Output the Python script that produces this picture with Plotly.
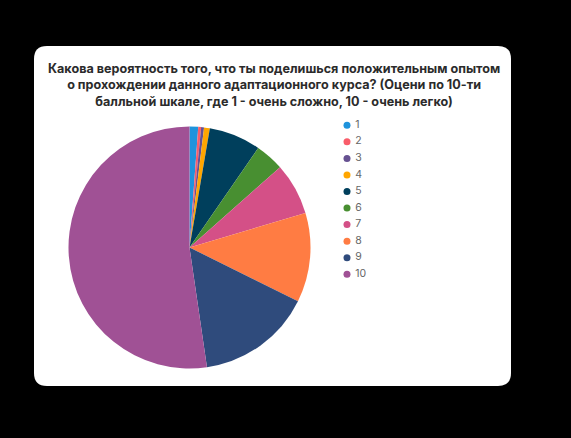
import plotly.graph_objects as go

W, H = 571, 438

title_lines = [
    "Какова вероятность того, что ты поделишься положительным опытом",
    "о прохождении данного адаптационного курса? (Оцени по 10-ти",
    "балльной шкале, где 1 - очень сложно, 10 - очень легко)",
]
categories = ["1", "2", "3", "4", "5", "6", "7", "8", "9", "10"]
counts = [3, 1, 1, 2, 18, 10, 18, 31, 40, 136]
colors = ["#1f93dc", "#f95d6a", "#665191", "#ffa600", "#003f5c",
          "#488f31", "#d45087", "#ff7c43", "#2f4b7c", "#a05195"]


def px(x):
    return x / W


def py(y):
    return 1 - y / H


# pie geometry (pixels)
cx, cy, R = 189.5, 247.5, 121

fig = go.Figure()
fig.add_trace(go.Pie(
    labels=categories, values=counts, sort=False, direction="clockwise",
    rotation=0, textinfo="none", hoverinfo="label+value+percent",
    marker=dict(colors=colors, line=dict(width=0)),
    domain=dict(x=[px(cx - R), px(cx + R)], y=[py(cy + R), py(cy - R)]),
    showlegend=False,
))

# custom legend (circle markers)
fig.add_trace(go.Scatter(
    x=[10] * len(categories), y=list(range(len(categories))),
    mode="markers+text", text=["\u00a0" + c for c in categories],
    textposition="middle right",
    marker=dict(color=colors, size=7, symbol="circle"),
    textfont=dict(family="Inter, sans-serif", size=10.5, color="#666666"),
    hoverinfo="skip", showlegend=False, cliponaxis=False,
))

row = 16.55
top_row = 125.3
y_top = top_row - row / 2
y_bot = top_row + row * 9.5

x0, x1, y0, y1, r = 34, 511, 46, 386, 13
path = (f"M {px(x0+r)},{py(y0)} L {px(x1-r)},{py(y0)} "
        f"Q {px(x1)},{py(y0)} {px(x1)},{py(y0+r)} L {px(x1)},{py(y1-r)} "
        f"Q {px(x1)},{py(y1)} {px(x1-r)},{py(y1)} L {px(x0+r)},{py(y1)} "
        f"Q {px(x0)},{py(y1)} {px(x0)},{py(y1-r)} L {px(x0)},{py(y0+r)} "
        f"Q {px(x0)},{py(y0)} {px(x0+r)},{py(y0)} Z")

fig.update_layout(
    width=W, height=H,
    margin=dict(l=0, r=0, t=0, b=0),
    paper_bgcolor="#000000",
    plot_bgcolor="rgba(0,0,0,0)",
    shapes=[dict(type="path", path=path, xref="paper", yref="paper",
                 fillcolor="#ffffff", line=dict(width=0), layer="below")],
    xaxis=dict(domain=[px(337), px(400)], range=[0, 63], visible=False,
               fixedrange=True),
    yaxis=dict(domain=[py(y_bot), py(y_top)], range=[9.5, -0.5],
               visible=False, fixedrange=True),
    annotations=[dict(
        text="<br>".join(title_lines), xref="paper", yref="paper",
        x=px(274), y=py(58.5), xanchor="center", yanchor="top",
        showarrow=False, align="center",
        font=dict(family="Inter, sans-serif", size=12.6, color="#2b2b2b",
                  weight="bold"),
    )],
)

fig.write_html("out.html")
